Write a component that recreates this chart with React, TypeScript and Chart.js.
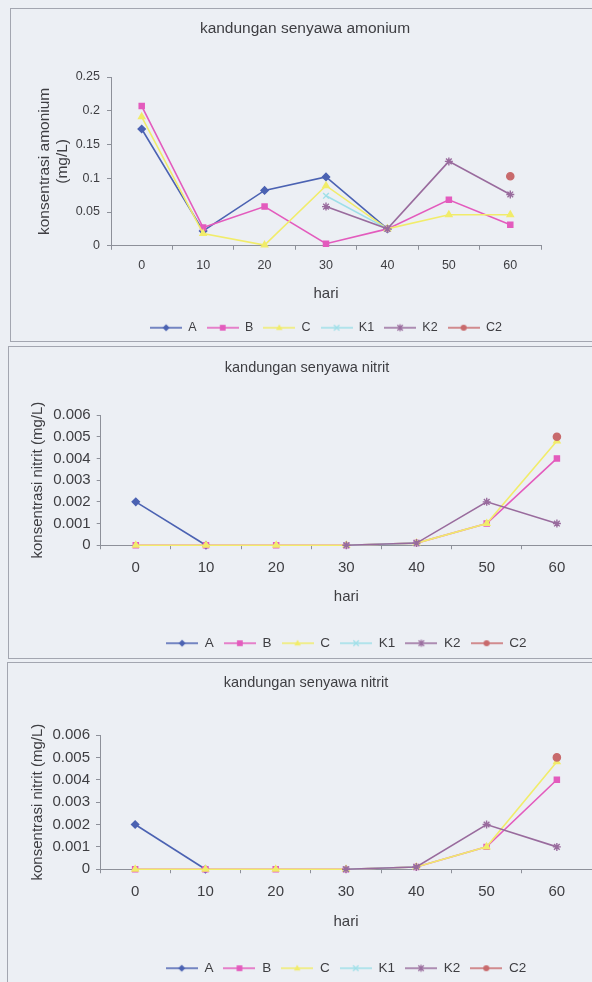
import React, { useEffect, useRef } from 'react';
import { Chart, registerables } from 'chart.js';

Chart.register(...registerables);

// ---- data ----
const days = ['0', '10', '20', '30', '40', '50', '60'];
const seriesNames = ['A', 'B', 'C', 'K1', 'K2', 'C2'];
const seriesColors = ['#4b62b2', '#e35bbd', '#f1ec6a', '#9edfe8', '#996b9d', '#c86a6c'];
const seriesMarkers = ['rectRot', 'rect', 'triangle', 'crossRot', 'star', 'circle'];

const amoniumA = [0.173, 0.022, 0.082, 0.102, 0.025, null, null];
const amoniumB = [0.207, 0.027, 0.058, 0.003, 0.025, 0.068, 0.031];
const amoniumC = [0.191, 0.018, 0.001, 0.089, 0.025, 0.046, 0.046];
const amoniumK1 = [null, null, null, 0.074, 0.025, null, null];
const amoniumK2 = [null, null, null, 0.058, 0.025, 0.125, 0.076];
const amoniumC2 = [null, null, null, null, null, null, 0.103];

const nitritA = [0.002, 0, null, null, null, null, null];
const nitritB = [0, 0, 0, 0, 0.0001, 0.001, 0.004];
const nitritC = [0, 0, 0, 0, 0.0001, 0.001, 0.0048];
const nitritK1 = [null, null, null, 0, 0.0001, null, null];
const nitritK2 = [null, null, null, 0, 0.0001, 0.002, 0.001];
const nitritC2 = [null, null, null, null, null, null, 0.005];

const amoniumTicks = [0, 0.05, 0.1, 0.15, 0.2, 0.25];
const nitritTicks = [0, 0.001, 0.002, 0.003, 0.004, 0.005, 0.006];

const amoniumTitle = 'kandungan senyawa amonium';
const nitritTitle = 'kandungan senyawa nitrit';
const amoniumYTitle = ['konsentrasi amonium', '(mg/L)'];
const nitritYTitle = 'konsentrasi nitrit (mg/L)';
const xTitle = 'hari';

// ---- styling ----
const FONT = '"Liberation Sans", Arial, Helvetica, sans-serif';
const TEXT = '#3e3e42';
const AXIS = '#8d9099';
const BG = '#eceff4';
const FRAME = '#a3a6b0';

type Series = (number | null)[];

interface PanelSpec {
  left: number; top: number; width: number; height: number;
  canvasW: number;
  title: string; titleSize: number; titlePadTop: number; titlePadBottom: number;
  yTitle: string | string[]; yTitleSize: number; yTitlePad: number;
  yWidth: number; rightW: number; plotH: number;
  tickSize: number; yTickPad: number; xTickPad: number;
  xH: number; xTitlePadBottom: number; xTitleSize: number;
  legendSize: number; legendPad: number;
  ticks: number[]; series: Series[];
}

function drawMarker(ctx: CanvasRenderingContext2D, style: string, x: number, y: number, r: number) {
  ctx.beginPath();
  switch (style) {
    case 'rectRot':
      ctx.moveTo(x, y - r); ctx.lineTo(x + r, y); ctx.lineTo(x, y + r); ctx.lineTo(x - r, y);
      ctx.closePath(); ctx.fill();
      break;
    case 'rect':
      ctx.fillRect(x - r * 0.8, y - r * 0.8, r * 1.6, r * 1.6);
      break;
    case 'triangle':
      ctx.moveTo(x, y - r); ctx.lineTo(x + r * 0.9, y + r * 0.6); ctx.lineTo(x - r * 0.9, y + r * 0.6);
      ctx.closePath(); ctx.fill();
      break;
    case 'crossRot':
      ctx.moveTo(x - r * 0.75, y - r * 0.75); ctx.lineTo(x + r * 0.75, y + r * 0.75);
      ctx.moveTo(x + r * 0.75, y - r * 0.75); ctx.lineTo(x - r * 0.75, y + r * 0.75);
      ctx.stroke();
      break;
    case 'star':
      ctx.moveTo(x - r * 0.75, y - r * 0.75); ctx.lineTo(x + r * 0.75, y + r * 0.75);
      ctx.moveTo(x + r * 0.75, y - r * 0.75); ctx.lineTo(x - r * 0.75, y + r * 0.75);
      ctx.moveTo(x, y - r); ctx.lineTo(x, y + r);
      ctx.stroke();
      break;
    default:
      ctx.arc(x, y, r * 0.85, 0, Math.PI * 2); ctx.fill();
  }
}

function legendIcon(color: string, marker: string): HTMLCanvasElement {
  const c = document.createElement('canvas');
  c.width = 32; c.height = 12;
  const ctx = c.getContext('2d')!;
  ctx.strokeStyle = color; ctx.fillStyle = color; ctx.lineWidth = 1.5;
  ctx.beginPath(); ctx.moveTo(0, 6); ctx.lineTo(32, 6); ctx.stroke();
  ctx.lineWidth = 1.3;
  drawMarker(ctx, marker, 16, 6, 3.6);
  return c;
}

function canvasHeight(s: PanelSpec) {
  const titleH = s.titlePadTop + s.titleSize * 1.2 + s.titlePadBottom;
  const legendH = s.legendSize + s.legendPad + 10;
  return titleH + s.plotH + s.xH + legendH;
}

function buildConfig(s: PanelSpec): any {
  const icons = seriesColors.map((c, i) => legendIcon(c, seriesMarkers[i]));
  const n = s.series.length;
  const datasets = s.series.map((data, i) => ({
    label: seriesNames[i],
    data,
    // later series are painted over earlier ones
    order: n - 1 - i,
    borderColor: seriesColors[i],
    backgroundColor: seriesColors[i],
    pointBackgroundColor: seriesColors[i],
    pointBorderColor: seriesColors[i],
    pointStyle: seriesMarkers[i],
    pointRadius: i >= 3 && i <= 4 ? 4 : 3.6,
    pointBorderWidth: 1.4,
    borderWidth: 1.6,
    tension: 0,
    spanGaps: false,
    clip: false,
  }));
  return {
    type: 'line',
    data: { labels: days, datasets },
    options: {
      responsive: false,
      maintainAspectRatio: false,
      animation: false,
      devicePixelRatio: 1,
      events: [],
      layout: { padding: 0 },
      plugins: {
        tooltip: { enabled: false },
        title: {
          display: true,
          text: s.title,
          color: TEXT,
          font: { family: FONT, size: s.titleSize, weight: 'normal', lineHeight: 1.2 },
          padding: { top: s.titlePadTop, bottom: s.titlePadBottom },
        },
        legend: {
          position: 'bottom',
          fullSize: false,
          labels: {
            usePointStyle: true,
            pointStyleWidth: 32,
            padding: s.legendPad,
            color: TEXT,
            font: { family: FONT, size: s.legendSize },
            generateLabels: (chart: any) =>
              chart.data.datasets.map((ds: any, i: number) => ({
                text: ds.label,
                pointStyle: icons[i],
                fillStyle: seriesColors[i],
                strokeStyle: seriesColors[i],
                lineWidth: 0,
                hidden: false,
                datasetIndex: i,
                fontColor: TEXT,
              })),
          },
        },
      },
      scales: {
        x: {
          type: 'category',
          offset: true,
          border: { display: true, color: AXIS, width: 1 },
          grid: { offset: true, drawOnChartArea: false, drawTicks: true, tickLength: 4, color: AXIS },
          ticks: {
            color: TEXT, autoSkip: false, maxRotation: 0, padding: s.xTickPad,
            font: { family: FONT, size: s.tickSize, lineHeight: 1.2 },
          },
          title: {
            display: true, text: xTitle, color: TEXT,
            font: { family: FONT, size: s.xTitleSize, lineHeight: 1.2 },
            padding: { top: 0, bottom: s.xTitlePadBottom },
          },
          afterFit: (sc: any) => { sc.height = s.xH; },
        },
        y: {
          type: 'linear',
          position: 'left',
          min: s.ticks[0],
          max: s.ticks[s.ticks.length - 1],
          afterBuildTicks: (sc: any) => { sc.ticks = s.ticks.map((v) => ({ value: v })); },
          border: { display: true, color: AXIS, width: 1 },
          grid: { drawOnChartArea: false, drawTicks: true, tickLength: 4, color: AXIS },
          ticks: {
            color: TEXT, padding: s.yTickPad,
            font: { family: FONT, size: s.tickSize, lineHeight: 1.2 },
            callback: (v: number) => String(v),
          },
          title: {
            display: true, text: s.yTitle, color: TEXT,
            font: { family: FONT, size: s.yTitleSize, lineHeight: 18 / s.yTitleSize },
            padding: { top: s.yTitlePad, bottom: 0 },
          },
          afterFit: (sc: any) => { sc.width = s.yWidth; },
        },
        spacer: {
          type: 'linear',
          position: 'right',
          display: true,
          border: { display: false },
          grid: { display: false, drawTicks: false },
          ticks: { display: false },
          afterFit: (sc: any) => { sc.width = s.rightW; },
        },
      },
    },
  };
}

const amoniumSeries: Series[] = [amoniumA, amoniumB, amoniumC, amoniumK1, amoniumK2, amoniumC2];
const nitritSeries: Series[] = [nitritA, nitritB, nitritC, nitritK1, nitritK2, nitritC2];

const panels: PanelSpec[] = [
  {
    left: 10, top: 8, width: 600, height: 334, canvasW: 588,
    title: amoniumTitle, titleSize: 15.5, titlePadTop: 10.7, titlePadBottom: 38.7,
    yTitle: amoniumYTitle, yTitleSize: 15.5, yTitlePad: 25,
    yWidth: 100, rightW: 58, plotH: 168,
    tickSize: 12.5, yTickPad: 7, xTickPad: 8.5,
    xH: 65.75, xTitlePadBottom: 8.75, xTitleSize: 15,
    legendSize: 12.5, legendPad: 10,
    ticks: amoniumTicks, series: amoniumSeries,
  },
  {
    left: 8, top: 346, width: 600, height: 313, canvasW: 596,
    title: nitritTitle, titleSize: 14.5, titlePadTop: 12.3, titlePadBottom: 38.3,
    yTitle: nitritYTitle, yTitleSize: 15, yTitlePad: 20,
    yWidth: 91.7, rightW: 13, plotH: 130,
    tickSize: 15, yTickPad: 6, xTickPad: 10,
    xH: 81.25, xTitlePadBottom: 20.25, xTitleSize: 15,
    legendSize: 13.5, legendPad: 10,
    ticks: nitritTicks, series: nitritSeries,
  },
  {
    left: 7, top: 662, width: 600, height: 330, canvasW: 596,
    title: nitritTitle, titleSize: 14.5, titlePadTop: 11.3, titlePadBottom: 43.3,
    yTitle: nitritYTitle, yTitleSize: 15, yTitlePad: 21,
    yWidth: 92, rightW: 12, plotH: 134,
    tickSize: 15, yTickPad: 6, xTickPad: 10,
    xH: 82.25, xTitlePadBottom: 20.25, xTitleSize: 15,
    legendSize: 13.5, legendPad: 10,
    ticks: nitritTicks, series: nitritSeries,
  },
];

function Panel({ spec }: { spec: PanelSpec }) {
  const ref = useRef<HTMLCanvasElement>(null);
  const h = Math.ceil(canvasHeight(spec));
  useEffect(() => {
    const chart = new Chart(ref.current!, buildConfig(spec));
    return () => chart.destroy();
  }, [spec]);
  return (
    <div
      style={{
        position: 'absolute', left: spec.left, top: spec.top, width: spec.width, height: spec.height,
        border: `1px solid ${FRAME}`, boxSizing: 'border-box', overflow: 'hidden', background: BG,
      }}
    >
      <canvas ref={ref} width={spec.canvasW} height={h} style={{ display: 'block', width: spec.canvasW, height: h }} />
    </div>
  );
}

export default function App() {
  return (
    <div style={{ position: 'fixed', left: 0, top: 0, width: 592, height: 982, overflow: 'hidden', background: BG }}>
      {panels.map((p, i) => <Panel key={i} spec={p} />)}
    </div>
  );
}
